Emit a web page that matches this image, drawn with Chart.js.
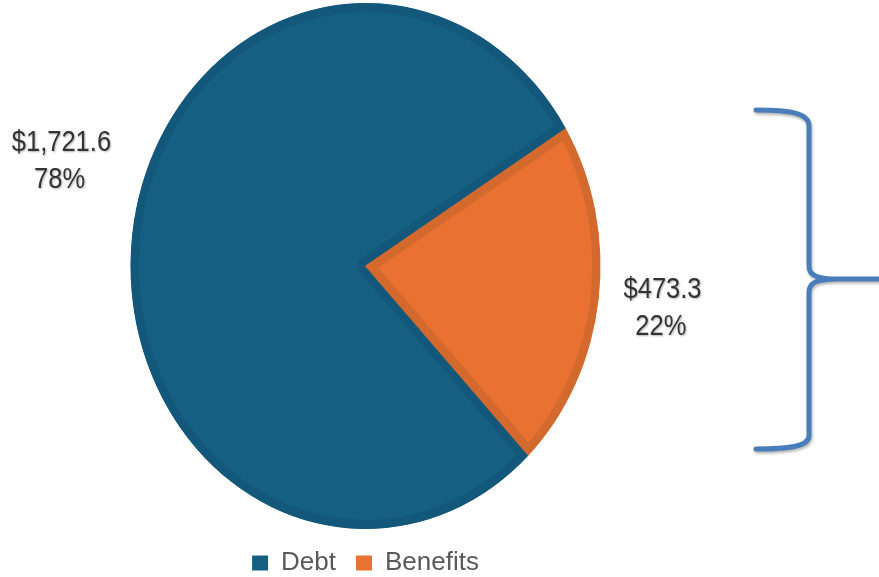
<!DOCTYPE html>
<html>
<head>
<meta charset="utf-8">
<title>Debt vs Benefits</title>
<script src="https://cdn.jsdelivr.net/npm/chart.js@4.4.0/dist/chart.umd.min.js"></script>
<style>
    html, body { margin: 0; padding: 0; background: #ffffff; }
    #wrap { width: 879px; height: 577px; position: relative; overflow: hidden; }
    canvas { display: block; }
</style>
</head>
<body>
<div id="wrap"><canvas id="pieChart" width="879" height="577"></canvas></div>
<script>
// Chart data
const categories = ['Debt', 'Benefits'];
const amounts = [1721.6, 473.3];

// Styling
const sliceColors = ['#156082', '#E97132'];
const sliceBorders = ['#13587a', '#d4692e'];
const pieRadius = 235;
const yStretch = 263 / 235;          // the reference pie is an upright ellipse
const labelSqueeze = 0.88;           // narrow label face
// label anchors, in units of the pie radius from its centre
const labelAnchors = [[-1.294, -0.445], [1.264, 0.181]];

function formatAmount(v) {
    return '$' + v.toLocaleString('en-US', { minimumFractionDigits: 1, maximumFractionDigits: 1 });
}

// Stretch the pie vertically without touching the text
const stretchPlugin = {
    id: 'stretch',
    beforeDatasetsDraw(chart) {
        const arc = chart.getDatasetMeta(0).data[0];
        const ctx = chart.ctx;
        ctx.save();
        ctx.translate(arc.x, arc.y);
        ctx.scale(1, yStretch);
        ctx.translate(-arc.x, -arc.y);
    },
    afterDatasetsDraw(chart) {
        chart.ctx.restore();
    }
};

// Value + percentage labels beside the slices
const sliceLabels = {
    id: 'sliceLabels',
    afterDatasetsDraw(chart) {
        const ctx = chart.ctx;
        const arc = chart.getDatasetMeta(0).data[0];
        const total = amounts.reduce((a, b) => a + b, 0);
        amounts.forEach((v, i) => {
            const x = arc.x + labelAnchors[i][0] * pieRadius;
            const y = arc.y + labelAnchors[i][1] * pieRadius;
            ctx.save();
            ctx.translate(x, y);
            ctx.scale(labelSqueeze, 1);
            ctx.font = '29px "Liberation Sans", sans-serif';
            ctx.fillStyle = '#333333';
            ctx.textAlign = 'center';
            ctx.textBaseline = 'middle';
            ctx.shadowColor = 'rgba(0,0,0,0.3)';
            ctx.shadowBlur = 2;
            ctx.shadowOffsetX = 1;
            ctx.shadowOffsetY = 1;
            ctx.fillText(formatAmount(v), 0, -18.5);
            ctx.fillText(Math.round(v / total * 100) + '%', -2, 18.5);
            ctx.restore();
        });
    }
};

// Curly brace on the right
const bracePlugin = {
    id: 'brace',
    afterDraw(chart) {
        const ctx = chart.ctx;
        ctx.save();
        ctx.strokeStyle = '#4a7ebb';
        ctx.lineWidth = 5;
        ctx.lineCap = 'round';
        ctx.shadowColor = 'rgba(0,0,0,0.3)';
        ctx.shadowBlur = 3;
        ctx.shadowOffsetX = 1;
        ctx.shadowOffsetY = 2;
        ctx.beginPath();
        ctx.moveTo(756, 110);
        ctx.bezierCurveTo(790, 110, 809, 113, 809, 126);
        ctx.lineTo(809, 266);
        ctx.bezierCurveTo(809, 276, 818, 279, 838, 279);
        ctx.lineTo(882, 279);
        ctx.moveTo(838, 279);
        ctx.bezierCurveTo(818, 279, 809, 282, 809, 292);
        ctx.lineTo(809, 436);
        ctx.bezierCurveTo(809, 446, 790, 449, 756, 449);
        ctx.stroke();
        ctx.restore();
    }
};

const ctx = document.getElementById('pieChart').getContext('2d');
new Chart(ctx, {
    type: 'pie',
    data: {
        labels: categories,
        datasets: [{
            data: amounts,
            backgroundColor: sliceColors,
            borderColor: sliceBorders,
            borderWidth: 8,
            borderAlign: 'inner',
            hoverOffset: 0
        }]
    },
    options: {
        responsive: false,
        animation: false,
        rotation: 136.1,
        radius: pieRadius,
        layout: {
            padding: { left: 0, right: 148, top: 2, bottom: -9 }
        },
        plugins: {
            tooltip: { enabled: false },
            legend: {
                position: 'bottom',
                labels: {
                    font: { family: '"Liberation Sans", sans-serif', size: 26 },
                    color: '#595959',
                    boxWidth: 16,
                    boxHeight: 15,
                    padding: 20,
                    generateLabels(chart) {
                        return Chart.overrides.pie.plugins.legend.labels.generateLabels(chart)
                            .map(item => Object.assign(item, { lineWidth: 0, strokeStyle: item.fillStyle }));
                    }
                }
            }
        }
    },
    plugins: [stretchPlugin, sliceLabels, bracePlugin]
});
</script>
</body>
</html>
